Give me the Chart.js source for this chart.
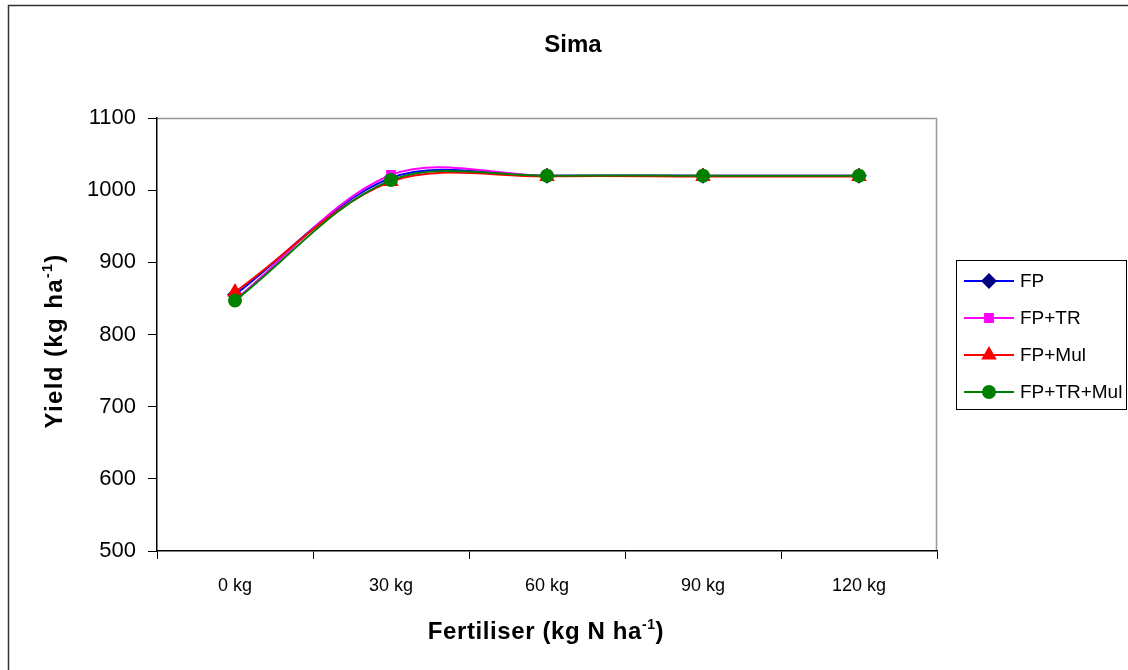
<!DOCTYPE html>
<html>
<head>
<meta charset="utf-8">
<script src="https://cdn.jsdelivr.net/npm/chart.js@4"></script>
<style>
  html, body { margin: 0; padding: 0; background: #fff; }
  #wrap { width: 1128px; height: 670px; position: relative; }
</style>
</head>
<body>
<div id="wrap"><canvas id="chart"></canvas></div>
<script>
const categories = ['0 kg', '30 kg', '60 kg', '90 kg', '120 kg']
const seriesNames = ['FP', 'FP+TR', 'FP+Mul', 'FP+TR+Mul']
const fp = [855, 1017, 1020, 1020, 1020]
const fpTr = [848, 1021, 1020, 1020, 1020]
const fpMul = [859, 1012, 1019, 1019, 1019]
const fpTrMul = [847, 1014, 1020, 1020, 1020]
const yTicks = [500, 600, 700, 800, 900, 1000, 1100]

const FONT = '"Liberation Sans", Arial, sans-serif'

const styles = [
  { line: '#0000ff', fill: '#000080', point: 'rectRot', radius: 6.5 },
  { line: '#ff00ff', fill: '#ff00ff', point: 'rect', radius: 5.5 },
  { line: '#ff0000', fill: '#ff0000', point: 'triangle', radius: 7 },
  { line: '#008000', fill: '#008000', point: 'circle', radius: 6 },
]

const values = [fp, fpTr, fpMul, fpTrMul]

const datasets = values.map((data, i) => ({
  label: seriesNames[i],
  data: data,
  borderColor: styles[i].line,
  backgroundColor: styles[i].fill,
  pointBackgroundColor: styles[i].fill,
  pointBorderColor: styles[i].fill,
  pointStyle: styles[i].point,
  pointRadius: styles[i].radius,
  borderWidth: 2,
  tension: 0.33,
  order: 3 - i,
}))

// text with a superscript part, centred on x
function drawSupText(ctx, parts, x, y, size, spacing) {
  ctx.letterSpacing = spacing + 'px'
  let total = 0
  parts.forEach((p) => {
    ctx.font = `bold ${p.sup ? Math.round(size * 0.6) : size}px ${FONT}`
    total += ctx.measureText(p.t).width
  })
  let cx = x - total / 2
  parts.forEach((p) => {
    ctx.font = `bold ${p.sup ? Math.round(size * 0.6) : size}px ${FONT}`
    ctx.fillText(p.t, cx, p.sup ? y - size * 0.42 : y)
    cx += ctx.measureText(p.t).width
  })
  ctx.letterSpacing = '0px'
}

const decor = {
  id: 'decor',
  beforeDraw(chart) {
    const ctx = chart.ctx
    const a = chart.chartArea
    ctx.save()
    ctx.fillStyle = '#fff'
    ctx.fillRect(0, 0, chart.width, chart.height)
    // outer frame
    ctx.strokeStyle = '#333'
    ctx.lineWidth = 1.5
    ctx.strokeRect(8.5, 5.5, 1130, 680)
    // plot area top/right border
    ctx.strokeStyle = '#999'
    ctx.lineWidth = 1.5
    ctx.beginPath()
    ctx.moveTo(a.left, a.top + 0.5)
    ctx.lineTo(a.right - 0.5, a.top + 0.5)
    ctx.lineTo(a.right - 0.5, a.bottom)
    ctx.stroke()
    ctx.restore()
  },
  afterDraw(chart) {
    const ctx = chart.ctx
    ctx.save()
    ctx.fillStyle = '#000'
    ctx.textBaseline = 'alphabetic'
    ctx.textAlign = 'center'
    ctx.font = `bold 24px ${FONT}`
    ctx.fillText('Sima', 573, 52)

    ctx.textAlign = 'left'
    drawSupText(ctx, [{ t: 'Fertiliser (kg N ha' }, { t: '-1', sup: true }, { t: ')' }], 546, 639, 24, 0.6)

    ctx.save()
    ctx.translate(62, 341)
    ctx.rotate(-Math.PI / 2)
    drawSupText(ctx, [{ t: 'Yield (kg ha' }, { t: '-1', sup: true }, { t: ')' }], 0, 0, 24, 1.4)
    ctx.restore()

    // legend
    ctx.strokeStyle = '#000'
    ctx.lineWidth = 1
    ctx.strokeRect(956.5, 260.5, 170, 149)
    const rows = [281, 318, 355, 392]
    ctx.textBaseline = 'middle'
    chart.data.datasets.forEach((ds, i) => {
      const y = rows[i]
      ctx.strokeStyle = ds.borderColor
      ctx.lineWidth = 2
      ctx.beginPath()
      ctx.moveTo(964, y)
      ctx.lineTo(1014, y)
      ctx.stroke()
      ctx.fillStyle = ds.pointBackgroundColor
      ctx.strokeStyle = ds.pointBorderColor
      Chart.helpers.drawPoint(ctx, { pointStyle: ds.pointStyle, radius: ds.pointRadius, borderWidth: 1 }, 989, y)
      ctx.fillStyle = '#000'
      ctx.font = `19px ${FONT}`
      ctx.textAlign = 'left'
      ctx.fillText(ds.label, 1020, y + 1)
    })
    ctx.restore()
  },
}

new Chart(document.getElementById('chart'), {
  type: 'line',
  data: { labels: categories, datasets: datasets },
  plugins: [decor],
  options: {
    responsive: true,
    maintainAspectRatio: false,
    animation: false,
    layout: { padding: { left: 0, top: 118, right: 191, bottom: 0 } },
    plugins: {
      legend: { display: false },
      title: { display: false },
      tooltip: { enabled: false },
    },
    scales: {
      x: {
        offset: true,
        grid: { offset: true, drawOnChartArea: false, tickLength: 8, color: '#000' },
        border: { color: '#000', width: 1.5 },
        ticks: { color: '#000', font: { family: FONT, size: 18 }, padding: 16, maxRotation: 0 },
        afterFit(scale) { scale.height = 119 },
      },
      y: {
        min: 500,
        max: 1100,
        afterBuildTicks(scale) { scale.ticks = yTicks.map((v) => ({ value: v })) },
        grid: { drawOnChartArea: false, tickLength: 9, color: '#000' },
        border: { color: '#000', width: 1.5 },
        ticks: { color: '#000', font: { family: FONT, size: 22 }, padding: 12, callback: (v) => String(v) },
        afterFit(scale) { scale.width = 157 },
      },
    },
  },
})
</script>
</body>
</html>
